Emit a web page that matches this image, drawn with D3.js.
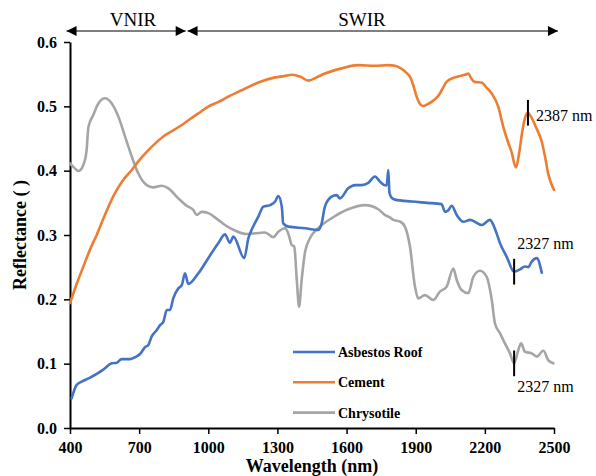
<!DOCTYPE html>
<html>
<head>
<meta charset="utf-8">
<script src="https://cdn.jsdelivr.net/npm/d3@7"></script>
<style>
  html, body { margin: 0; padding: 0; background: #fff; }
  svg { display: block; }
  text { font-family: "Liberation Serif", "Times New Roman", serif; fill: #000; }
</style>
</head>
<body>
<svg id="chart" width="596" height="476"></svg>
<script>
// Spectral reflectance curves (wavelength in nm, reflectance fraction)
const roofWl = [407, 429, 451, 480, 516, 545, 581, 603, 624, 660, 682, 704, 725, 740, 754, 776, 791, 805, 820, 834, 848, 870, 885, 899, 913, 957, 1000, 1043, 1072, 1094, 1109, 1156, 1174, 1188, 1217, 1239, 1268, 1290, 1304, 1319, 1325, 1347, 1420, 1477, 1492, 1506, 1535, 1557, 1571, 1607, 1637, 1666, 1694, 1723, 1745, 1762, 1774, 1781, 1786, 1795, 1810, 1883, 1950, 2012, 2027, 2040, 2056, 2078, 2107, 2136, 2186, 2222, 2237, 2251, 2266, 2295, 2327, 2352, 2374, 2388, 2403, 2425, 2447];
const roofVal = [0.046, 0.067, 0.072, 0.077, 0.084, 0.091, 0.1005, 0.1015, 0.107, 0.107, 0.110, 0.115, 0.1255, 0.129, 0.142, 0.152, 0.160, 0.165, 0.1835, 0.1835, 0.2015, 0.217, 0.222, 0.2405, 0.224, 0.2405, 0.264, 0.287, 0.301, 0.288, 0.2975, 0.264, 0.295, 0.308, 0.3285, 0.344, 0.3465, 0.352, 0.3605, 0.344, 0.318, 0.313, 0.3105, 0.308, 0.318, 0.344, 0.3595, 0.362, 0.357, 0.3725, 0.3775, 0.3775, 0.381, 0.391, 0.383, 0.378, 0.377, 0.401, 0.366, 0.358, 0.355, 0.352, 0.350, 0.348, 0.336, 0.338, 0.3455, 0.331, 0.3205, 0.3235, 0.3155, 0.3235, 0.3155, 0.3025, 0.287, 0.266, 0.243, 0.2465, 0.251, 0.250, 0.2585, 0.264, 0.2415];

const cementWl = [400, 430, 458, 490, 516, 550, 595, 630, 668, 700, 740, 775, 812, 850, 885, 920, 957, 1000, 1045, 1087, 1145, 1217, 1290, 1330, 1362, 1400, 1434, 1470, 1506, 1579, 1651, 1723, 1781, 1810, 1840, 1860, 1875, 1890, 1904, 1920, 1933, 1950, 1969, 1990, 2005, 2020, 2034, 2070, 2114, 2128, 2140, 2155, 2186, 2205, 2230, 2258, 2280, 2300, 2315, 2335, 2350, 2362, 2375, 2387, 2400, 2425, 2447, 2462, 2475, 2490, 2500];
const cementVal = [0.194, 0.225, 0.251, 0.280, 0.300, 0.330, 0.365, 0.385, 0.401, 0.416, 0.432, 0.444, 0.455, 0.463, 0.471, 0.480, 0.489, 0.4995, 0.507, 0.515, 0.525, 0.537, 0.545, 0.547, 0.549, 0.546, 0.540, 0.545, 0.551, 0.559, 0.564, 0.563, 0.564, 0.563, 0.558, 0.552, 0.546, 0.532, 0.515, 0.503, 0.5005, 0.503, 0.507, 0.513, 0.520, 0.530, 0.538, 0.545, 0.549, 0.551, 0.544, 0.538, 0.537, 0.530, 0.520, 0.4995, 0.468, 0.445, 0.430, 0.405, 0.430, 0.460, 0.483, 0.490, 0.484, 0.465, 0.445, 0.420, 0.395, 0.378, 0.370];

const chrysWl = [400, 420, 436, 458, 472, 480, 501, 523, 552, 581, 610, 639, 668, 696, 733, 761, 798, 827, 870, 906, 935, 950, 971, 1000, 1043, 1072, 1116, 1167, 1246, 1282, 1304, 1333, 1347, 1362, 1373, 1384, 1394, 1405, 1420, 1441, 1477, 1535, 1607, 1680, 1738, 1767, 1788, 1803, 1832, 1853, 1875, 1897, 1911, 1940, 1976, 2005, 2034, 2063, 2078, 2099, 2128, 2150, 2179, 2208, 2230, 2244, 2266, 2287, 2309, 2327, 2345, 2357, 2374, 2403, 2425, 2454, 2475, 2497];
const chrysVal = [0.4115, 0.404, 0.3995, 0.409, 0.432, 0.468, 0.4865, 0.5045, 0.5125, 0.5045, 0.484, 0.453, 0.422, 0.396, 0.3775, 0.374, 0.3765, 0.3725, 0.357, 0.3455, 0.339, 0.331, 0.336, 0.334, 0.3235, 0.3155, 0.307, 0.3015, 0.304, 0.2965, 0.305, 0.3105, 0.3025, 0.2845, 0.282, 0.230, 0.1885, 0.230, 0.274, 0.295, 0.3105, 0.326, 0.340, 0.3465, 0.340, 0.331, 0.3275, 0.3235, 0.321, 0.313, 0.282, 0.2195, 0.2015, 0.2065, 0.199, 0.212, 0.2195, 0.248, 0.230, 0.2145, 0.2095, 0.235, 0.2445, 0.235, 0.199, 0.1625, 0.147, 0.1315, 0.116, 0.1005, 0.121, 0.1315, 0.1185, 0.116, 0.111, 0.120, 0.1055, 0.1005];

const seriesNames = ["Asbestos Roof", "Cement", "Chrysotile"];
const seriesColors = ["#4472C4", "#ED7D31", "#A5A5A5"];
const xTicks = [400, 700, 1000, 1300, 1600, 1900, 2200, 2500];
const yTicks = [0, 0.1, 0.2, 0.3, 0.4, 0.5, 0.6];

// Absorption-feature markers: wavelength, series index, label
const markerWl = [2387, 2327, 2327];
const markerSeries = [1, 0, 2];
const markerLabels = ["2387 nm", "2327 nm", "2327 nm"];

// Spectral region bands shown above the plot
const regionNames = ["VNIR", "SWIR"];
const regionStart = [385, 910];
const regionEnd = [902, 2517];

const W = 596, H = 476;
const margin = { top: 42, right: 42, bottom: 48, left: 70 };
const iw = W - margin.left - margin.right;
const ih = H - margin.top - margin.bottom;

const svg = d3.select("#chart");
const g = svg.append("g").attr("transform", `translate(${margin.left},${margin.top})`);

const x = d3.scaleLinear().domain([400, 2500]).range([0, iw]);
const y = d3.scaleLinear().domain([0, 0.6]).range([ih, 0]);

// Axes
const xAxis = d3.axisBottom(x).tickValues(xTicks).tickSize(6).tickSizeOuter(0).tickFormat(d3.format("d"));
const yAxis = d3.axisLeft(y).tickValues(yTicks).tickSize(6).tickSizeOuter(0).tickFormat(d3.format(".1f"));

const gx = g.append("g").attr("transform", `translate(0,${ih})`).call(xAxis);
const gy = g.append("g").call(yAxis);
[gx, gy].forEach(a => {
  a.select(".domain").attr("stroke", "#000").attr("stroke-width", 2);
  a.selectAll(".tick line").attr("stroke", "#000").attr("stroke-width", 1.5);
  a.selectAll(".tick text")
    .attr("font-family", "Liberation Serif, Times New Roman, serif")
    .attr("font-weight", "bold")
    .attr("font-size", 16)
    .attr("fill", "#000");
});
gx.selectAll(".tick text").attr("dy", "1.0em");
gy.selectAll(".tick text").attr("x", -13);

// Axis titles
svg.append("text")
  .attr("x", margin.left + iw / 2).attr("y", 472)
  .attr("text-anchor", "middle").attr("font-weight", "bold").attr("font-size", 18)
  .text("Wavelength (nm)");
svg.append("text")
  .attr("transform", `translate(26,${margin.top + ih / 2}) rotate(-90)`)
  .attr("text-anchor", "middle").attr("font-weight", "bold").attr("font-size", 18)
  .text("Reflectance ( )");

// Curves
const series = [
  { wl: roofWl, val: roofVal },
  { wl: cementWl, val: cementVal },
  { wl: chrysWl, val: chrysVal }
];
const line = d3.line().x(d => x(d[0])).y(d => y(d[1])).curve(d3.curveMonotoneX);
// draw order: chrysotile, cement, roof on top
[2, 1, 0].forEach(i => {
  const pts = series[i].wl.map((w, k) => [w, series[i].val[k]]);
  g.append("path")
    .datum(pts)
    .attr("fill", "none")
    .attr("stroke", seriesColors[i])
    .attr("stroke-width", 2.6)
    .attr("stroke-linejoin", "round")
    .attr("stroke-linecap", "round")
    .attr("d", line);
});

// Absorption markers and labels
const markerHalf = 0.02;
const labelPos = [
  { dx: 8, dy: -0.013 },
  { dx: 3, dy: 0.035 },
  { dx: 3, dy: -0.044 }
];
markerWl.forEach((w, i) => {
  const s = series[markerSeries[i]];
  const k = s.wl.indexOf(w);
  const v = s.val[k];
  g.append("line")
    .attr("x1", x(w)).attr("x2", x(w))
    .attr("y1", y(v + markerHalf)).attr("y2", y(v - markerHalf))
    .attr("stroke", "#000").attr("stroke-width", 2);
  g.append("text")
    .attr("x", x(w) + labelPos[i].dx)
    .attr("y", y(v + labelPos[i].dy))
    .attr("font-size", 16)
    .text(markerLabels[i]);
});

// Legend
const legend = g.append("g").attr("transform", `translate(${293 - margin.left},${352 - margin.top})`);
seriesNames.forEach((name, i) => {
  const row = legend.append("g").attr("transform", `translate(0,${i * 30.3})`);
  row.append("line").attr("x1", 0).attr("x2", 42).attr("y1", 0).attr("y2", 0)
    .attr("stroke", seriesColors[i]).attr("stroke-width", 2.6);
  row.append("text").attr("x", 45).attr("y", 5)
    .attr("font-weight", "bold").attr("font-size", 14)
    .text(name);
});

// Spectral region arrows above the plot
const defs = svg.append("defs");
defs.append("marker").attr("id", "arrowEnd")
  .attr("viewBox", "0 0 10 10").attr("refX", 10).attr("refY", 5)
  .attr("markerUnits", "userSpaceOnUse").attr("markerWidth", 11).attr("markerHeight", 10)
  .attr("orient", "auto")
  .append("path").attr("d", "M0,0 L10,5 L0,10 Z").attr("fill", "#000");
defs.append("marker").attr("id", "arrowStart")
  .attr("viewBox", "0 0 10 10").attr("refX", 0).attr("refY", 5)
  .attr("markerUnits", "userSpaceOnUse").attr("markerWidth", 11).attr("markerHeight", 10)
  .attr("orient", "auto")
  .append("path").attr("d", "M10,0 L0,5 L10,10 Z").attr("fill", "#000");

const arrowY = 31;
regionNames.forEach((name, i) => {
  const x0 = margin.left + x(regionStart[i]);
  const x1 = margin.left + x(regionEnd[i]);
  svg.append("line")
    .attr("x1", x0).attr("x2", x1).attr("y1", arrowY).attr("y2", arrowY)
    .attr("stroke", "#000").attr("stroke-width", 1)
    .attr("marker-start", "url(#arrowStart)")
    .attr("marker-end", "url(#arrowEnd)");
});
svg.append("text").attr("x", 133).attr("y", 26).attr("text-anchor", "middle")
  .attr("font-size", 19).text(regionNames[0]);
svg.append("text").attr("x", 362).attr("y", 26).attr("text-anchor", "middle")
  .attr("font-size", 19).text(regionNames[1]);
</script>
</body>
</html>
